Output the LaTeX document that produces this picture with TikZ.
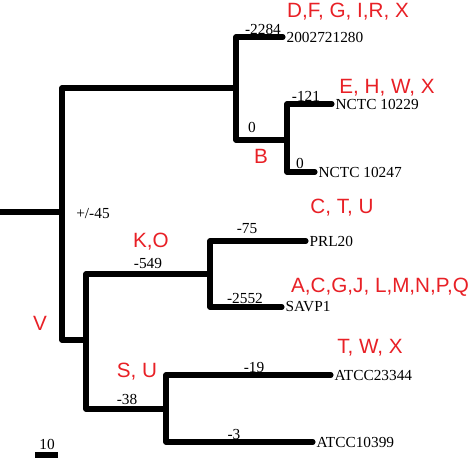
\documentclass[tikz,border=0pt]{standalone}
\usepackage{fontspec}
\setmainfont{Liberation Serif}
\newfontfamily\cladefont{Liberation Sans}
\usetikzlibrary{positioning}
\definecolor{cladered}{RGB}{232,32,38}
\tikzset{
  branch/.style={line width=3.8pt, line cap=round, line join=round},
  leaf/.style={inner sep=1.5pt, font=\fontsize{11.5}{12}\selectfont},
  blen/.style={inner sep=0pt, font=\fontsize{11.5}{12}\selectfont},
  clade/.style={inner sep=0pt, text=cladered, font=\cladefont\fontsize{15.5}{16}\selectfont},
}
\begin{document}
\begin{tikzpicture}[x=0.75pt, y=-0.75pt]
    \useasboundingbox (0,0) rectangle (473,459);

    % inner nodes
    \coordinate (root) at (0,212);
    \coordinate (j0) at (62,212);
    \coordinate (cA) at (236,88);
    \coordinate (cB) at (287,140);
    \coordinate (cKO) at (86,340);
    \coordinate (cK) at (210,274);
    \coordinate (cS) at (166,409);

    % tips
    \coordinate (t1) at (283,37);
    \coordinate (t2) at (332,104);
    \coordinate (t3) at (315,172);
    \coordinate (t4) at (306,241);
    \coordinate (t5) at (282,307);
    \coordinate (t6) at (331,375);
    \coordinate (t7) at (313,442);

    % branches
    \draw[branch] (root) -- (j0);
    \draw[branch] (cA) -| (j0) |- (cKO);
    \draw[branch] (t1) -| (cA) |- (cB);
    \draw[branch] (t2) -| (cB) |- (t3);
    \draw[branch] (cK) -| (cKO) |- (cS);
    \draw[branch] (t4) -| (cK) |- (t5);
    \draw[branch] (t6) -| (cS) |- (t7);

    % strain names
    \node[leaf, right=1pt of t1] (l1) {2002721280};
    \node[leaf, right=1pt of t2] (l2) {NCTC 10229};
    \node[leaf, right=1pt of t3] (l3) {NCTC 10247};
    \node[leaf, right=1pt of t4] (l4) {PRL20};
    \node[leaf, right=1pt of t5] (l5) {SAVP1};
    \node[leaf, right=1pt of t6] (l6) {ATCC23344};
    \node[leaf, right=1pt of t7] (l7) {ATCC10399};

    % branch values
    \node[blen] (v45) at (93,214) {+/-45};
    \node[blen] (v2284) at (263,29) {-2284};
    \node[blen] (v0a) at (252,127) {0};
    \node[blen] (v121) at (306,96) {-121};
    \node[blen] (v0b) at (300,163) {0};
    \node[blen] (v549) at (148,263) {-549};
    \node[blen] (v75) at (247,229) {-75};
    \node[blen] (v2552) at (245,298) {-2552};
    \node[blen] (v38) at (127,399) {-38};
    \node[blen] (v19) at (254,367) {-19};
    \node[blen] (v3) at (234,434) {-3};

    % clade letters
    \node[clade] (kDF) at (348,12) {D,F, G, I,R, X};
    \node[clade] (kEH) at (387,88) {E, H, W, X};
    \node[clade] (kB) at (261,156) {B};
    \node[clade] (kCT) at (342,208) {C, T, U};
    \node[clade] (kKO) at (151,242) {K,O};
    \node[clade] (kAC) at (380,287) {A,C,G,J, L,M,N,P,Q};
    \node[clade] (kV) at (40,323) {V};
    \node[clade] (kSU) at (137,372) {S, U};
    \node[clade] (kTW) at (370,348) {T, W, X};

    % scale bar
    \coordinate (sb1) at (35,455);
    \coordinate (sb2) at (58,455);
    \draw[line width=4.5pt] (sb1) -- (sb2);
    \node[blen] (sbl) at (47,444) {10};
\end{tikzpicture}
\end{document}
